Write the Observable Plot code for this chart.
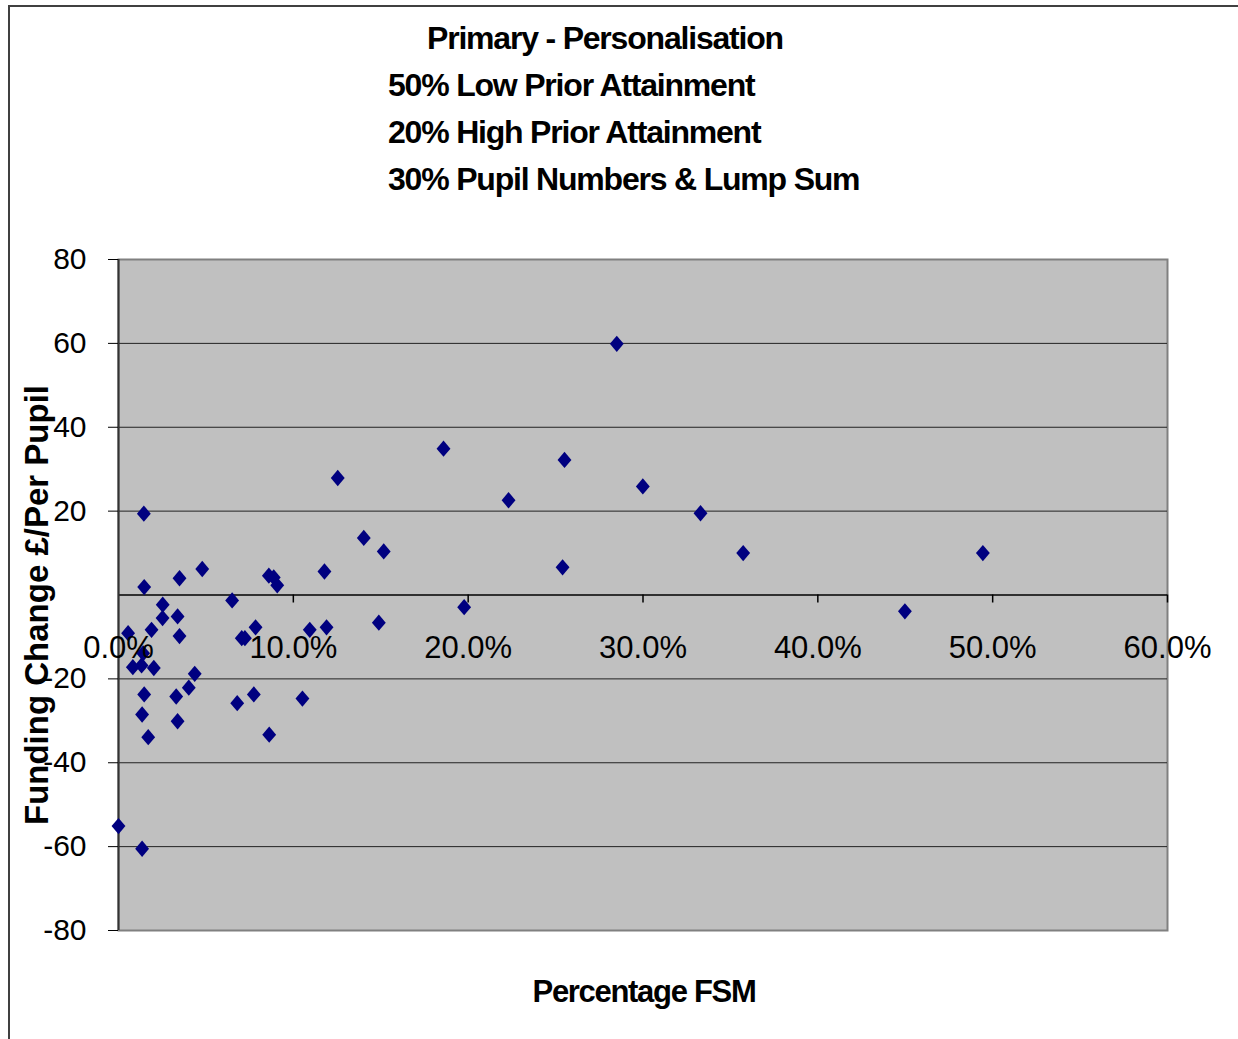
<!DOCTYPE html>
<html><head><meta charset="utf-8">
<script src="https://cdn.jsdelivr.net/npm/d3@7"></script>
<script src="https://cdn.jsdelivr.net/npm/@observablehq/plot@0.6"></script>
<style>
body{margin:0;background:#fff;}
#wrap{position:relative;width:1238px;height:1039px;overflow:hidden;font-family:"Liberation Sans",Arial,sans-serif;}
.frame{position:absolute;left:8px;top:5px;width:1300px;height:1100px;border-top:2px solid #404040;border-left:2px solid #404040;}
.t{position:absolute;font-weight:bold;font-size:32px;letter-spacing:-1.2px;line-height:1;white-space:nowrap;color:#000;}
#chart{position:absolute;left:0;top:0;}
</style></head>
<body><div id="wrap"><div class="frame"></div>
<div id="chart"></div>
<div class="t" style="left:427px;top:22px">Primary - Personalisation</div>
<div class="t" style="left:388px;top:69px">50% Low Prior Attainment</div>
<div class="t" style="left:388px;top:116px">20% High Prior Attainment</div>
<div class="t" style="left:388px;top:163px">30% Pupil Numbers &amp; Lump Sum</div>
<div class="t" style="left:644px;top:991px;font-size:31px;letter-spacing:-1.3px;transform:translate(-50%,-50%)">Percentage FSM</div>
<div class="t" style="left:36px;top:605px;font-size:33px;letter-spacing:0px;transform:translate(-50%,-50%) rotate(-90deg)">Funding Change £/Per Pupil</div>
</div>
<script>
// Percentage FSM (%) and funding change (£ per pupil)
const fsm = [1.45,1.47,2.53,3.49,4.79,2.52,3.38,1.89,3.49,0.55,1.41,6.50,7.05,7.23,7.84,8.60,8.88,9.08,
  0.82,1.32,2.02,4.36,1.47,3.30,4.02,1.35,3.38,1.70,6.79,7.74,8.62,0.00,1.35,
  11.78,15.17,10.94,11.90,14.89,10.52,12.54,14.03,
  28.50,18.59,25.51,22.31,29.99,33.29,35.73,25.40,19.77,49.44,44.98];
const change = [19.4,1.9,-2.3,4.0,6.2,-5.5,-5.1,-8.3,-9.8,-9.1,-13.9,-1.3,-10.3,-10.3,-7.7,4.6,4.2,2.3,
  -17.2,-16.8,-17.4,-18.8,-23.7,-24.2,-22.1,-28.5,-30.1,-33.9,-25.8,-23.7,-33.3,-55.1,-60.5,
  5.6,10.4,-8.3,-7.7,-6.6,-24.7,27.9,13.6,
  59.9,34.9,32.2,22.6,25.9,19.5,10.0,6.6,-2.9,10.0,-3.9];
const xTicks = [0,10,20,30,40,50,60];
const yTicks = [-80,-60,-40,-20,20,40,60,80];
const gridValues = [-60,-40,-20,20,40,60];

const points = fsm.map((x,i)=>({x, y: change[i]}));

const excelDiamond = {draw(ctx, size){
  const k = Math.sqrt(size/(2*0.85)); const h = k, w = k*0.85;
  ctx.moveTo(0,-h); ctx.lineTo(w,0); ctx.lineTo(0,h); ctx.lineTo(-w,0); ctx.closePath();
}};

const chart = Plot.plot({
  width: 1238, height: 1039,
  marginLeft: 118, marginRight: 71, marginTop: 259, marginBottom: 109,
  style: {fontFamily: "'Liberation Sans', Arial, sans-serif", fontSize: "30px", color: "#000", background: "transparent", overflow: "visible"},
  x: {domain: [0,60]},
  y: {domain: [-80,80]},
  marks: [
    Plot.frame({fill: "#c0c0c0", stroke: "#808080", strokeWidth: 2}),
    Plot.ruleY(gridValues, {stroke: "#222", strokeWidth: 1}),
    Plot.ruleY([0], {stroke: "#000", strokeWidth: 1.5}),
    Plot.ruleX([0], {stroke: "#333", strokeWidth: 2}),
    Plot.ruleX(xTicks.slice(1), {x: d=>d, y1: 0, y2: 0, insetBottom: -8, stroke: "#000", strokeWidth: 1.5}),
    Plot.axisY(yTicks, {tickSize: 10, tickPadding: 22, tickFormat: d=>String(d), fontSize: 30, label: null, stroke: "#000"}),
    Plot.axisX([], {label: null, tickSize: 0}),
    Plot.dot(points, {x: "x", y: "y", symbol: excelDiamond, r: 6, fill: "#000080", stroke: "none"}),
    Plot.text(xTicks, {x: d=>d, y: 0, dy: 53, text: d=>d.toFixed(1)+"%", fontSize: 31, fill: "#000"})
  ]
});
document.getElementById("chart").appendChild(chart);
</script>
</body></html>
